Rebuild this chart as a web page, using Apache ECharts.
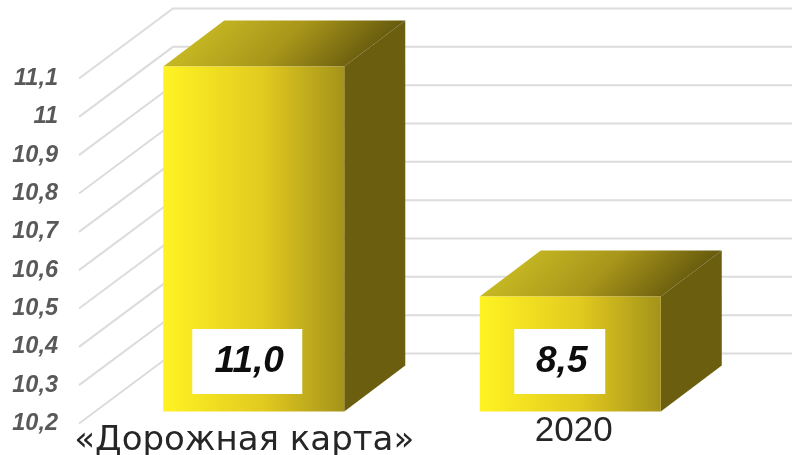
<!DOCTYPE html>
<html><head><meta charset="utf-8">
<style>html,body{margin:0;padding:0;background:#fff}#c{width:792px;height:455px}</style>
<script src="https://cdn.jsdelivr.net/npm/echarts@6/dist/echarts.min.js"></script>
</head><body><div id="c"></div>
<script>
const categories = ['«Дорожная карта»', '2020'];
const barValues = [11.1, 10.5];
const valueLabels = ['11,0', '8,5'];
const tickValues = [10.2, 10.3, 10.4, 10.5, 10.6, 10.7, 10.8, 10.9, 11, 11.1];

const wallDX = 94, wallDY = -70;
const depthDX = 61, depthDY = -46;
const frontDX = 16.5, frontDY = -12;
const boxStyle = [{dx: -6.5, w: 110}, {dx: -10.5, w: 91}];

const chart = echarts.init(document.getElementById('c'), null, {renderer: 'canvas'});

function gridItem(params, api) {
  const p = api.coord([0, api.value(1)]);
  const cs = params.coordSys;
  const x0 = cs.x, x1 = cs.x + wallDX, x2 = cs.x + cs.width + wallDX;
  return {
    type: 'polyline',
    shape: {points: [[x0, p[1]], [x1, p[1] + wallDY], [x2, p[1] + wallDY]]},
    style: {stroke: '#dcdcdc', lineWidth: 2, fill: null}
  };
}

function barItem(params, api) {
  const i = api.value(0);
  const hw = api.size([1, 0])[0] * 0.286;
  const top = api.coord([i, api.value(1)]);
  const bot = api.coord([i, 10.2]);
  const xl = top[0] + frontDX - hw, xr = top[0] + frontDX + hw;
  const yt = top[1] + frontDY, yb = bot[1] + frontDY;
  const front = new echarts.graphic.LinearGradient(0, 0, 1, 0, [
    {offset: 0, color: '#fff323'}, {offset: 0.55, color: '#e2ca1f'}, {offset: 1, color: '#a4931a'}]);
  const topFill = new echarts.graphic.LinearGradient(xl, yt, xl + 98, yt + 98, [
    {offset: 0, color: '#c6b823'}, {offset: 0.5, color: '#a8951a'}, {offset: 1, color: '#665a0e'}], true);
  return {
    type: 'group',
    children: [
      {type: 'polygon', shape: {points: [[xr, yt], [xr + depthDX, yt + depthDY], [xr + depthDX, yb + depthDY], [xr, yb]]},
        style: {fill: '#6b5e0e'}},
      {type: 'polygon', shape: {points: [[xl, yt], [xl + depthDX, yt + depthDY], [xr + depthDX, yt + depthDY], [xr, yt]]},
        style: {fill: topFill}},
      {type: 'rect', shape: {x: xl, y: yt, width: xr - xl, height: yb - yt}, style: {fill: front}}
    ]
  };
}

function labelItem(params, api) {
  const i = api.value(0);
  const bot = api.coord([i, 10.2]);
  const s = boxStyle[i];
  const cx = bot[0] + frontDX + s.dx;
  const yc = bot[1] + frontDY - 50;
  return {
    type: 'group',
    children: [
      {type: 'rect', shape: {x: cx - s.w / 2, y: yc - 32.5, width: s.w, height: 65}, style: {fill: '#fff'}},
      {type: 'text', style: {x: cx + 2, y: yc, text: valueLabels[i], align: 'center', verticalAlign: 'middle',
        font: 'italic bold 37px "Liberation Sans", Arial, sans-serif', fill: '#0d0d0d'}}
    ]
  };
}

chart.setOption({
  animation: false,
  backgroundColor: '#fff',
  grid: {left: 79, top: 78.5, width: 633, height: 345, containLabel: false, outerBoundsMode: 'none'},
  xAxis: {
    type: 'category',
    data: [
      {value: categories[0], textStyle: {padding: [12.5, 0, 0, 14], fontSize: 34, fontFamily: '"DejaVu Sans", sans-serif'}},
      {value: categories[1], textStyle: {padding: [2.5, 0, 0, 40]}}
    ],
    axisLine: {show: false}, axisTick: {show: false}, splitLine: {show: false},
    axisLabel: {interval: 0, margin: -12, hideOverlap: false, fontSize: 35, color: '#262626',
      fontFamily: '"Liberation Sans", Arial, sans-serif'}
  },
  yAxis: {
    type: 'value', min: 10.2, max: 11.1, interval: 0.1,
    axisLine: {show: false}, axisTick: {show: false}, splitLine: {show: false},
    axisLabel: {margin: 21, fontSize: 23.5, fontStyle: 'italic', fontWeight: 'bold', color: '#595959',
      padding: [3, 0, 0, 0],
      fontFamily: '"Liberation Sans", Arial, sans-serif',
      formatter: v => String(Math.round(v * 10) / 10).replace('.', ',')}
  },
  series: [
    {type: 'custom', z: 1, silent: true, clip: false, renderItem: gridItem,
      encode: {x: 0, y: 1}, data: tickValues.map(v => [0, v])},
    {type: 'custom', z: 2, silent: true, clip: false, renderItem: barItem,
      encode: {x: 0, y: 1}, data: barValues.map((v, i) => [i, v])},
    {type: 'custom', z: 3, silent: true, clip: false, renderItem: labelItem,
      encode: {x: 0, y: 1}, data: barValues.map((v, i) => [i, v])}
  ]
});
</script></body></html>
